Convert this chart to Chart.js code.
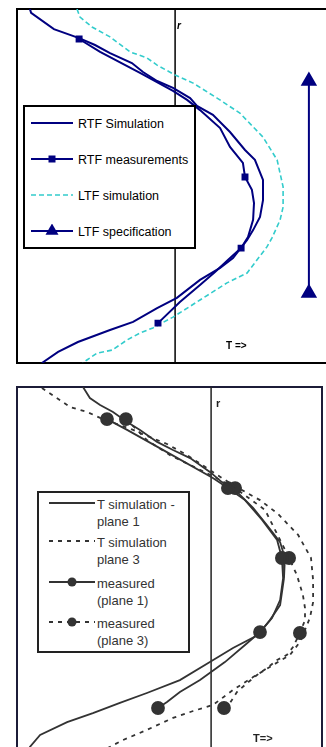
<!DOCTYPE html>
<html>
<head>
<meta charset="utf-8">
<script src="https://cdn.jsdelivr.net/npm/chart.js@4.4.1/dist/chart.umd.min.js"></script>
<style>
    body { margin: 0; width: 326px; height: 747px; overflow: hidden; background: #fff; position: relative;
           font-family: 'Liberation Sans', Arial, sans-serif; }
    canvas { position: absolute; left: 0; }
    .txt { position: absolute; font-weight: bold; white-space: nowrap; }
    .legend { position: absolute; background: #fff; box-sizing: border-box; }
    .legend .item { position: absolute; white-space: nowrap; }
    .legend svg { position: absolute; }
</style>
</head>
<body>
<canvas id="topChart" width="326" height="372" style="top:0"></canvas>
<canvas id="bottomChart" width="326" height="375" style="top:378px"></canvas>

<div class="txt" style="left:177px;top:20px;font-size:10px;font-style:italic;">r</div>
<div class="txt" style="left:226px;top:340px;font-size:10px;">T =&gt;</div>
<div class="txt" style="left:216px;top:397px;font-size:11px;color:#222;">r</div>
<div class="txt" style="left:253px;top:732px;font-size:11px;color:#222;">T=&gt;</div>

<div id="legendTop" class="legend" style="left:23px;top:105px;width:173px;height:144px;border:2px solid #000;"></div>
<div id="legendBottom" class="legend" style="left:37px;top:491px;width:153px;height:162px;border:2px solid #222;"></div>

<script>
// ---- top chart (RTF / LTF) ----
const rtfSimT = [4.3, 4.7, 12.3, 20.7, 26, 31, 38.3, 42, 46.7, 52, 57.7, 60, 65.3, 71, 76, 79.3, 82, 82, 81, 78.7, 76.7, 72, 67.7, 61, 53.3, 46.7, 38.7, 31, 20.3, 13.7, 8.3];
const rtfSimR = [118, 116.7, 111.3, 108.3, 106, 103.3, 100, 97, 94, 91.7, 88.3, 85.7, 82.7, 77, 71, 67.7, 61, 54.3, 48.7, 44.3, 41, 35, 31.7, 27.7, 21.7, 18.3, 13.7, 11, 7, 3.7, 0];

const rtfMeasT = [20.7, 27.7, 41, 52, 56.7, 61, 67.7, 71, 75.3, 76, 78.3, 79, 78.7, 77, 74.7, 70.3, 66, 61, 54.3, 47];
const rtfMeasR = [108, 103.7, 96.7, 90.7, 87.7, 84.3, 78.3, 72, 66.7, 62, 57.7, 53.3, 47.7, 42, 38.3, 34.3, 30.3, 26, 20.3, 13.3];
const rtfMeasMarks = [0, 9, 14, 19];

const ltfSimT = [20, 21, 25, 31, 37.7, 43.3, 46.7, 52.7, 58.7, 66.7, 74.3, 82, 86.7, 88.7, 88.7, 87.7, 85, 83.3, 76.7, 70, 61, 52, 45.3, 41, 36.7, 31.7, 26.7, 23.3, 22];
const ltfSimR = [118, 115.3, 112, 108.7, 103.7, 101.7, 99.3, 96, 93.3, 88.3, 83.3, 75.3, 67.7, 58.7, 52, 47.7, 41.7, 38.7, 30, 26.7, 21, 15.3, 11.7, 10, 7.7, 4.3, 3.3, 1, 0];

const ltfSpecT = [97.3, 97.3];
const ltfSpecR = [94, 23.3];

const topAxisT = [52.7, 52.7];
const topAxisR = [0, 118];

// ---- bottom chart (planes 1 and 3) ----
const sim1T = [22, 24.3, 27.7, 32, 36.7, 41, 46.7, 52, 57.7, 64.3, 68.3, 72, 78.7, 83.3, 87.7, 89.3, 89, 87.7, 84.3, 80.3, 72, 64.3, 54.3, 43.3, 34.3, 25.3, 16.7, 7.7, 4.3, 4];
const sim1R = [121, 117.3, 115, 112.7, 109.3, 106.7, 102.7, 100, 97.3, 92.7, 89.3, 87.3, 80.7, 75, 69.3, 64, 57.3, 48.3, 43.3, 38.3, 34, 29.3, 23.3, 19, 15.7, 12.3, 9.3, 5, 1, 0];

const sim3T = [8.3, 12.7, 17.7, 23.3, 27.7, 38.7, 43.3, 50, 56.7, 64.3, 72, 81, 87, 93.7, 98, 98.7, 98.7, 97.7, 96.7, 94.3, 91, 85.3, 78.7, 72, 65.3, 58.7, 52, 43.3, 35.3, 29];
const sim3R = [120.7, 117.7, 114.3, 112.7, 110.7, 106.7, 104.7, 102, 98.3, 93.3, 88.3, 83.3, 78.7, 71.7, 64, 56.7, 49.3, 44.3, 41.7, 36, 31.7, 28.3, 24.3, 20, 15, 13, 10.7, 6.7, 3.3, 0];

const meas1T = [30, 36.7, 51, 65.3, 70.3, 76, 81.7, 86.7, 88.3, 88.7, 87.7, 85, 81, 76, 69.3, 61, 54.3, 50, 47];
const meas1R = [110.3, 106.7, 98.7, 90.7, 87.3, 83.3, 76.7, 70, 64, 57.3, 50, 44, 39.3, 35, 29.3, 23.3, 19.3, 16, 14];
const meas1Marks = [0, 4, 8, 12, 18];

const meas3T = [36.3, 40, 43.3, 51, 65.3, 72.7, 82.7, 87.7, 90.7, 93.3, 95.3, 96, 96, 94.3, 92, 90, 86.7, 83.3, 80, 76.7, 73.3, 71, 69];
const meas3R = [110.3, 106.7, 103.3, 98.3, 91.3, 87.3, 80, 70, 64, 58.3, 51.7, 47.3, 43.3, 39, 34.3, 31.7, 30, 27.3, 25, 22.3, 19.3, 15.7, 14];
const meas3Marks = [0, 5, 8, 13, 22];

const bottomAxisT = [64.7, 64.7];
const bottomAxisR = [0, 121];

const NAVY = '#000080';
const CYAN = '#33CCCC';
const GREY = '#333333';

function pts(t, r) { return t.map((x, i) => ({ x: x, y: r[i] })); }
function marks(arr, idx, size) { return arr.map((_, i) => idx.includes(i) ? size : 0); }

// axes only used as the frame: no ticks, no grid, zero thickness
function frameScale(pos, color, min, max) {
    const vertical = pos === 'left' || pos === 'right';
    return {
        type: 'linear', position: pos, min: min, max: max,
        grid: { display: false, drawTicks: false },
        ticks: { display: false },
        border: { display: true, color: color, width: 2 },
        afterFit: s => { if (vertical) s.width = 0; else s.height = 0; }
    };
}

function baseOptions(xMax, yMax, padding, frameColor, withRight) {
    const scales = {
        x: frameScale('bottom', frameColor, 0, xMax),
        y: frameScale('left', frameColor, 0, yMax),
        xTop: frameScale('top', frameColor, 0, 1)
    };
    if (withRight) scales.yRight = frameScale('right', frameColor, 0, 1);
    return {
        responsive: false, animation: false,
        layout: { padding: padding, autoPadding: false },
        plugins: { legend: { display: false }, tooltip: { enabled: false } },
        elements: { line: { tension: 0 } },
        scales: scales
    };
}

const topSets = [
    { label: 'RTF Simulation', data: pts(rtfSimT, rtfSimR), borderColor: NAVY, borderWidth: 2, pointRadius: 0 },
    { label: 'RTF measurements', data: pts(rtfMeasT, rtfMeasR), borderColor: NAVY, borderWidth: 2,
      pointStyle: 'rect', pointRadius: marks(rtfMeasT, rtfMeasMarks, 3.5), backgroundColor: NAVY, pointBorderColor: NAVY },
    { label: 'LTF simulation', data: pts(ltfSimT, ltfSimR), borderColor: CYAN, borderWidth: 1.6, borderDash: [5, 3], pointRadius: 0 },
    { label: 'LTF specification', data: pts(ltfSpecT, ltfSpecR), borderColor: NAVY, borderWidth: 2,
      pointStyle: 'triangle', pointRadius: 7.5, backgroundColor: NAVY, pointBorderColor: NAVY },
    { label: 'r', data: pts(topAxisT, topAxisR), borderColor: '#000', borderWidth: 1.5, pointRadius: 0 }
];

const bottomSets = [
    { label: 'T simulation - plane 1', data: pts(sim1T, sim1R), borderColor: GREY, borderWidth: 1.8, pointRadius: 0 },
    { label: 'T simulation plane 3', data: pts(sim3T, sim3R), borderColor: GREY, borderWidth: 1.8, borderDash: [4, 5], pointRadius: 0 },
    { label: 'measured (plane 1)', data: pts(meas1T, meas1R), borderColor: GREY, borderWidth: 1.8,
      pointRadius: marks(meas1T, meas1Marks, 6), backgroundColor: GREY, pointBorderColor: GREY },
    { label: 'measured (plane 3)', data: pts(meas3T, meas3R), borderColor: GREY, borderWidth: 1.8, borderDash: [4, 5],
      pointRadius: marks(meas3T, meas3Marks, 6), backgroundColor: GREY, pointBorderColor: GREY },
    { label: 'r', data: pts(bottomAxisT, bottomAxisR), borderColor: '#222', borderWidth: 1.5, pointRadius: 0 }
];

new Chart(document.getElementById('topChart'), {
    type: 'line',
    data: { datasets: topSets },
    options: baseOptions(103, 118, { left: 17, top: 9, right: 0, bottom: 9 }, '#000', false)
});

new Chart(document.getElementById('bottomChart'), {
    type: 'line',
    data: { datasets: bottomSets },
    options: baseOptions(305 / 3, 121, { left: 17, top: 9, right: 4, bottom: 3 }, '#1c1c38', true)
});

// legends drawn as html text with small svg samples
function sample(ds, w) {
    const dash = ds.borderDash ? `stroke-dasharray="${ds.borderDash.join(',')}"` : '';
    let mark = '';
    const r = Array.isArray(ds.pointRadius) ? Math.max(...ds.pointRadius) : ds.pointRadius;
    if (r > 0) {
        const c = w / 2;
        if (ds.pointStyle === 'rect') mark = `<rect x="${c - r}" y="${7 - r}" width="${2 * r}" height="${2 * r}" fill="${ds.borderColor}"/>`;
        else if (ds.pointStyle === 'triangle') mark = `<polygon points="${c},${7 - r} ${c - r * 0.87},${7 + r * 0.5} ${c + r * 0.87},${7 + r * 0.5}" fill="${ds.borderColor}"/>`;
        else mark = `<circle cx="${c}" cy="7" r="${r * 0.75}" fill="${ds.borderColor}"/>`;
    }
    return `<svg width="${w}" height="14"><line x1="0" y1="7" x2="${w}" y2="7" stroke="${ds.borderColor}" stroke-width="${ds.borderWidth}" ${dash}/>${mark}</svg>`;
}

const topLegendRows = [18, 54, 90, 126];
const topBox = document.getElementById('legendTop');
topSets.slice(0, 4).forEach((ds, i) => {
    const y = topLegendRows[i];
    topBox.insertAdjacentHTML('beforeend',
        `<div style="position:absolute;left:6px;top:${y - 9}px;">${sample(ds, 42)}</div>
         <div class="item" style="left:53px;top:${y - 9}px;font-size:12.5px;line-height:16px;color:#000;">${ds.label}</div>`);
});

const bottomLegendLines = [
    ['T simulation -', 'plane  1'],
    ['T simulation', 'plane  3'],
    ['measured', '(plane 1)'],
    ['measured', '(plane 3)']
];
const bottomLegendRows = [12, 50, 91, 131];
const botBox = document.getElementById('legendBottom');
bottomSets.slice(0, 4).forEach((ds, i) => {
    const y = bottomLegendRows[i];
    botBox.insertAdjacentHTML('beforeend',
        `<div style="position:absolute;left:10px;top:${y - 9}px;">${sample(ds, 46)}</div>
         <div class="item" style="left:58px;top:${y - 9}px;font-size:13px;line-height:17px;color:#333;">${bottomLegendLines[i].join('<br>')}</div>`);
});
</script>
</body>
</html>
